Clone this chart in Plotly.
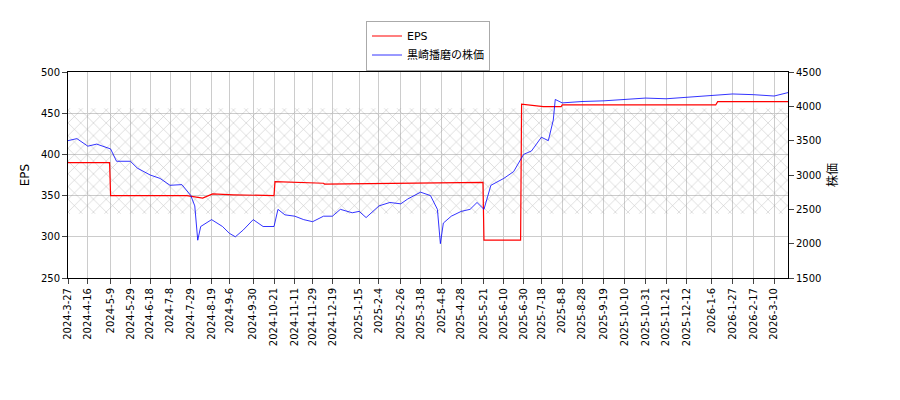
import plotly.graph_objects as go

price_dates = ["2024-03-27","2024-04-05","2024-04-16","2024-04-25","2024-05-09","2024-05-15","2024-05-29","2024-06-05","2024-06-18","2024-06-28","2024-07-08","2024-07-20","2024-07-29","2024-08-02","2024-08-05","2024-08-08","2024-08-19","2024-08-30","2024-09-06","2024-09-12","2024-09-20","2024-09-30","2024-10-10","2024-10-21","2024-10-25","2024-11-01","2024-11-11","2024-11-20","2024-11-29","2024-12-10","2024-12-19","2024-12-27","2025-01-08","2025-01-15","2025-01-22","2025-02-04","2025-02-15","2025-02-26","2025-03-05","2025-03-18","2025-03-28","2025-04-04","2025-04-07","2025-04-10","2025-04-18","2025-04-28","2025-05-07","2025-05-14","2025-05-21","2025-05-28","2025-06-10","2025-06-20","2025-06-30","2025-07-08","2025-07-18","2025-07-25","2025-07-30","2025-08-01","2025-08-08","2025-08-28","2025-09-19","2025-10-10","2025-10-31","2025-11-21","2025-12-12","2026-01-06","2026-01-27","2026-02-17","2026-03-10","2026-03-24"]
price_vals = [3500,3530,3420,3450,3380,3200,3200,3100,3000,2950,2850,2860,2700,2550,2050,2250,2350,2250,2150,2100,2200,2350,2250,2250,2500,2420,2400,2350,2320,2400,2400,2500,2450,2470,2380,2550,2600,2580,2650,2750,2700,2500,2000,2300,2400,2470,2500,2600,2500,2850,2950,3050,3300,3350,3550,3500,3800,4100,4050,4070,4080,4100,4120,4110,4130,4150,4180,4170,4150,4200]

eps_dates = ["2024-03-27","2024-05-08","2024-05-09","2024-07-25","2024-08-10","2024-08-20","2024-09-10","2024-10-21","2024-10-22","2024-12-10","2024-12-11","2025-05-20","2025-05-21","2025-06-27","2025-06-28","2025-07-20","2025-08-07","2025-08-08","2026-01-10","2026-01-12","2026-03-24"]
eps_vals = [390,390,350,350,347,352,351,350,367,365,364,366,296,296,461,458,458,460,460,464,464]

band_lo, band_hi = 328, 456
tick_labels = ["2024-3-27","2024-4-16","2024-5-9","2024-5-29","2024-6-18","2024-7-8","2024-7-29","2024-8-19","2024-9-6","2024-9-30","2024-10-21","2024-11-11","2024-11-29","2024-12-19","2025-1-15","2025-2-4","2025-2-26","2025-3-18","2025-4-8","2025-4-28","2025-5-21","2025-6-10","2025-6-30","2025-7-18","2025-8-8","2025-8-28","2025-9-19","2025-10-10","2025-10-31","2025-11-21","2025-12-12","2026-1-6","2026-1-27","2026-2-17","2026-3-10"]
tick_vals = ["%s-%02d-%02d" % tuple(int(p) for p in t.split("-")) for t in tick_labels]

x0, x1 = "2024-03-27", "2026-03-24"
fig = go.Figure()
fig.add_trace(go.Scatter(x=[x0, x1, x1, x0, x0], y=[band_lo, band_lo, band_hi, band_hi, band_lo],
    fill="toself", mode="lines", line=dict(width=0), fillcolor="rgba(0,0,0,0)",
    fillpattern=dict(shape="x", fgcolor="#888", size=9, solidity=0.12), showlegend=False, hoverinfo="skip"))
fig.add_trace(go.Scatter(x=eps_dates, y=eps_vals, mode="lines", line=dict(color="red", width=1.2), name="EPS"))
fig.add_trace(go.Scatter(x=price_dates, y=price_vals, mode="lines", line=dict(color="blue", width=0.8), name="黒崎播磨の株価", yaxis="y2"))

fig.update_layout(
    width=900, height=400, margin=dict(l=60, r=120, t=60, b=130),
    plot_bgcolor="white", paper_bgcolor="white",
    font=dict(family="DejaVu Sans, Noto Sans CJK JP", size=10, color="black"),
    legend=dict(x=0.5, y=1.25, xanchor="center", yanchor="top", bordercolor="#aaa", borderwidth=1, font=dict(size=11)),
    xaxis=dict(range=[x0, x1], tickvals=tick_vals, ticktext=tick_labels, tickangle=-90, showgrid=True, automargin=False,
               gridcolor="#ccc", showline=True, linecolor="black", mirror=True, ticks="outside"),
    yaxis=dict(range=[250, 500], dtick=50, title=dict(text="EPS", standoff=8), showgrid=True, gridcolor="#ccc", automargin=False,
               showline=True, linecolor="black", ticks="outside"),
    yaxis2=dict(range=[1500, 4500], dtick=500, title=dict(text="株価", standoff=8), overlaying="y", side="right", automargin=False,
                showgrid=False, showline=True, linecolor="black", ticks="outside"),
)
fig.write_html("out.html")
